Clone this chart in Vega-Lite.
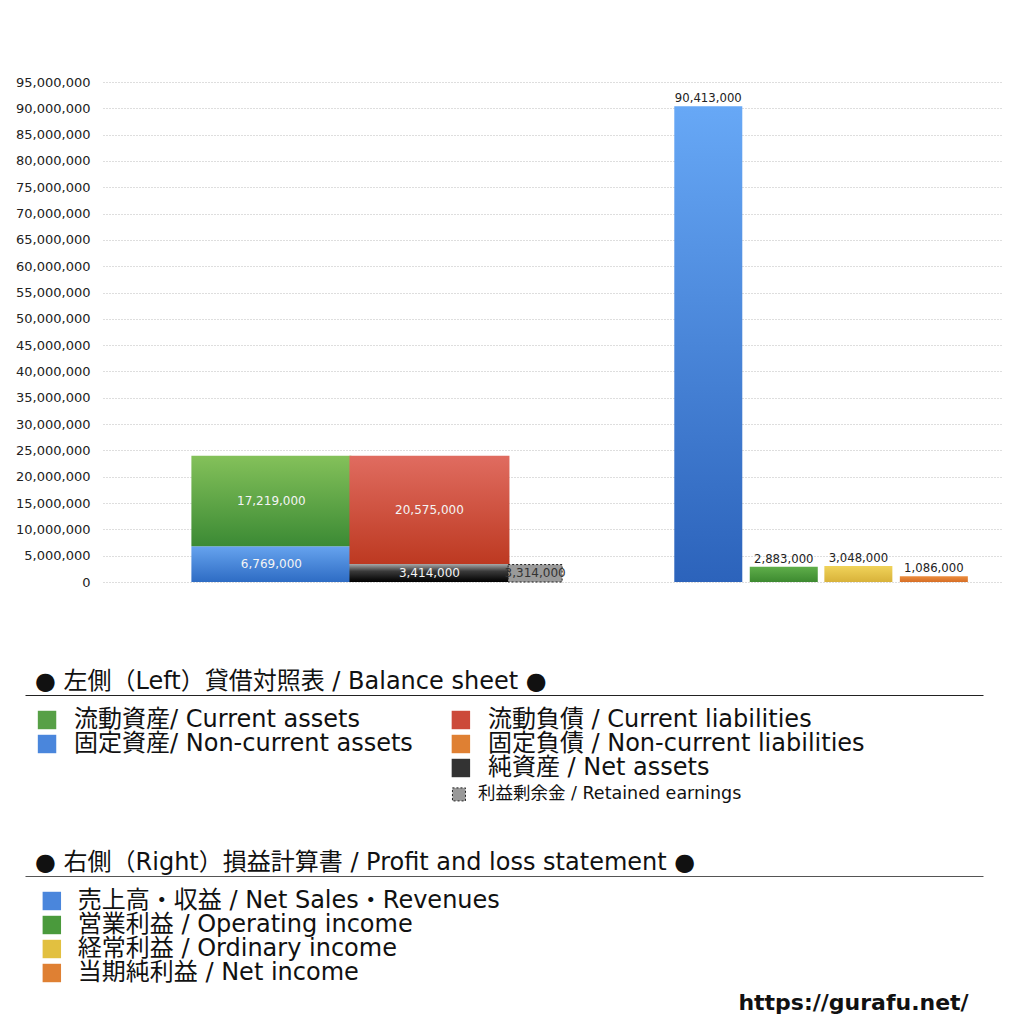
{
  "$schema": "https://vega.github.io/schema/vega-lite/v6.json",
  "background": "white",
  "padding": {"top": 76, "left": 15, "right": 0, "bottom": 0},
  "spacing": 10,
  "config": {
    "font": "DejaVu Sans, Noto Sans CJK JP",
    "view": {"stroke": null}
  },
  "datasets": {
    "bars": [
      {"item": "固定資産", "bar": "資産", "pos": 18.4, "value": 6769000, "order": 1},
      {"item": "流動資産", "bar": "資産", "pos": 18.4, "value": 17219000, "order": 2},
      {"item": "純資産", "bar": "負債・純資産", "pos": 36.2, "value": 3414000, "order": 1},
      {"item": "流動負債", "bar": "負債・純資産", "pos": 36.2, "value": 20575000, "order": 2},
      {"item": "利益剰余金", "bar": "利益剰余金", "pos": 48.1, "value": 3314000, "order": 1},
      {"item": "売上高", "bar": "売上高", "pos": 67.6, "value": 90413000, "order": 1},
      {"item": "営業利益", "bar": "営業利益", "pos": 76.1, "value": 2883000, "order": 1},
      {"item": "経常利益", "bar": "経常利益", "pos": 84.5, "value": 3048000, "order": 1},
      {"item": "当期純利益", "bar": "当期純利益", "pos": 93.0, "value": 1086000, "order": 1}
    ],
    "legend1": [
      {"item": "流動資産", "label": "流動資産/ Current assets", "x": 0.023, "row": 0},
      {"item": "固定資産", "label": "固定資産/ Non-current assets", "x": 0.023, "row": 1},
      {"item": "流動負債", "label": "流動負債 /  Current liabilities", "x": 0.455, "row": 0},
      {"item": "固定負債", "label": "固定負債 / Non-current liabilities", "x": 0.455, "row": 1},
      {"item": "純資産", "label": "純資産 / Net assets", "x": 0.455, "row": 2},
      {"item": "利益剰余金", "label": "利益剰余金 / Retained earnings", "x": 0.453, "row": 3.1}
    ],
    "legend2": [
      {"item": "売上高", "label": "売上高・収益 / Net Sales・Revenues", "x": 0.028, "row": 0},
      {"item": "営業利益", "label": "営業利益 / Operating income", "x": 0.028, "row": 1},
      {"item": "経常利益", "label": "経常利益 / Ordinary income", "x": 0.028, "row": 2},
      {"item": "当期純利益", "label": "当期純利益 / Net income", "x": 0.028, "row": 3}
    ]
  },
  "vconcat": [
    {
      "width": 898,
      "height": 500,
      "data": {"name": "bars"},
      "transform": [
        {"stack": "value", "groupby": ["bar"], "sort": [{"field": "order", "order": "ascending"}], "as": ["v0", "v1"]},
        {"calculate": "(datum.v0 + datum.v1) / 2", "as": "mid"}
      ],
      "encoding": {
        "x": {
          "field": "pos",
          "type": "quantitative",
          "scale": {"domain": [0, 100]},
          "axis": {"labels": false, "ticks": false, "domain": false, "grid": false, "title": null, "minExtent": 78, "maxExtent": 78}
        },
        "y": {
          "field": "v1",
          "type": "quantitative",
          "scale": {"domain": [0, 95000000], "nice": false},
          "axis": {
            "title": null,
            "values": [0, 5000000, 10000000, 15000000, 20000000, 25000000, 30000000, 35000000, 40000000, 45000000, 50000000, 55000000, 60000000, 65000000, 70000000, 75000000, 80000000, 85000000, 90000000, 95000000],
            "format": ",",
            "labelExpr": "format(datum.value, ',')",
            "labelFontSize": 13,
            "labelColor": "#222",
            "labelPadding": 13,
            "ticks": false,
            "domain": false,
            "grid": true,
            "gridColor": "#bdbdbd",
            "gridDash": [1, 2],
            "minExtent": 77,
            "maxExtent": 77
          }
        }
      },
      "layer": [
        {
          "transform": [{"filter": "datum.item == '固定資産'"}],
          "mark": {"type": "bar", "width": 160, "fill": {"gradient": "linear", "x1": 0, "y1": 0, "x2": 0, "y2": 1, "stops": [{"offset": 0, "color": "#66a3ee"}, {"offset": 1, "color": "#2e6cc4"}]}},
          "encoding": {"y2": {"field": "v0"}}
        },
        {
          "transform": [{"filter": "datum.item == '流動資産'"}],
          "mark": {"type": "bar", "width": 160, "fill": {"gradient": "linear", "x1": 0, "y1": 0, "x2": 0, "y2": 1, "stops": [{"offset": 0, "color": "#84c15a"}, {"offset": 1, "color": "#3b8a34"}]}},
          "encoding": {"y2": {"field": "v0"}}
        },
        {
          "transform": [{"filter": "datum.item == '純資産'"}],
          "mark": {"type": "bar", "width": 160, "fill": {"gradient": "linear", "x1": 0, "y1": 0, "x2": 0, "y2": 1, "stops": [{"offset": 0, "color": "#a8a8a8"}, {"offset": 0.4, "color": "#3a3a3a"}, {"offset": 1, "color": "#000000"}]}},
          "encoding": {"y2": {"field": "v0"}}
        },
        {
          "transform": [{"filter": "datum.item == '流動負債'"}],
          "mark": {"type": "bar", "width": 160, "fill": {"gradient": "linear", "x1": 0, "y1": 0, "x2": 0, "y2": 1, "stops": [{"offset": 0, "color": "#e06c60"}, {"offset": 1, "color": "#bd3921"}]}},
          "encoding": {"y2": {"field": "v0"}}
        },
        {
          "transform": [{"filter": "datum.item == '利益剰余金'"}],
          "mark": {"type": "bar", "width": 54, "fill": "#9a9a9a", "stroke": "#222", "strokeWidth": 1, "strokeDash": [2, 2]},
          "encoding": {"y2": {"field": "v0"}}
        },
        {
          "transform": [{"filter": "datum.item == '売上高'"}],
          "mark": {"type": "bar", "width": 68, "fill": {"gradient": "linear", "x1": 0, "y1": 0, "x2": 0, "y2": 1, "stops": [{"offset": 0, "color": "#67a8f6"}, {"offset": 1, "color": "#2c63bb"}]}},
          "encoding": {"y2": {"field": "v0"}}
        },
        {
          "transform": [{"filter": "datum.item == '営業利益'"}],
          "mark": {"type": "bar", "width": 68, "fill": {"gradient": "linear", "x1": 0, "y1": 0, "x2": 0, "y2": 1, "stops": [{"offset": 0, "color": "#5fae4a"}, {"offset": 1, "color": "#3d8a30"}]}},
          "encoding": {"y2": {"field": "v0"}}
        },
        {
          "transform": [{"filter": "datum.item == '経常利益'"}],
          "mark": {"type": "bar", "width": 68, "fill": {"gradient": "linear", "x1": 0, "y1": 0, "x2": 0, "y2": 1, "stops": [{"offset": 0, "color": "#f0d35a"}, {"offset": 1, "color": "#d8b23a"}]}},
          "encoding": {"y2": {"field": "v0"}}
        },
        {
          "transform": [{"filter": "datum.item == '当期純利益'"}],
          "mark": {"type": "bar", "width": 68, "fill": {"gradient": "linear", "x1": 0, "y1": 0, "x2": 0, "y2": 1, "stops": [{"offset": 0, "color": "#eb8d3d"}, {"offset": 1, "color": "#d76e26"}]}},
          "encoding": {"y2": {"field": "v0"}}
        },
        {
          "transform": [{"filter": "datum.bar == '資産' || datum.bar == '負債・純資産'"}],
          "mark": {"type": "text", "fontSize": 12, "fill": "#f4f4f4"},
          "encoding": {"y": {"field": "mid", "type": "quantitative"}, "text": {"field": "value", "type": "quantitative", "format": ","}}
        },
        {
          "transform": [{"filter": "datum.item == '利益剰余金'"}],
          "mark": {"type": "text", "fontSize": 12, "fill": "#333"},
          "encoding": {"y": {"field": "mid", "type": "quantitative"}, "text": {"field": "value", "type": "quantitative", "format": ","}}
        },
        {
          "transform": [{"filter": "datum.pos > 60"}],
          "mark": {"type": "text", "fontSize": 11.7, "fill": "#222", "baseline": "bottom", "dy": -2},
          "encoding": {"text": {"field": "value", "type": "quantitative", "format": ","}}
        }
      ]
    },
    {
      "width": 880,
      "height": 146,
      "title": {"text": "● 左側（Left）貸借対照表 / Balance sheet ●", "anchor": "start", "frame": "group", "fontSize": 24, "fontWeight": "normal", "color": "#111", "dx": -68, "offset": 1},
      "data": {"name": "legend1"},
      "encoding": {
        "x": {"field": "x", "type": "quantitative", "scale": {"domain": [0, 1], "range": [-78, 880]}, "axis": {"orient": "top", "labels": false, "ticks": false, "grid": false, "title": null, "domain": true, "domainColor": "#222", "domainWidth": 1}},
        "y": {"field": "row", "type": "quantitative", "scale": {"domain": [0, 3], "range": [25, 97], "zero": false, "nice": false}, "axis": null}
      },
      "layer": [
        {
          "transform": [{"filter": "datum.item != '利益剰余金'"}],
          "mark": {"type": "point", "shape": "square", "size": 340, "filled": true, "opacity": 1},
          "encoding": {
            "color": {
              "field": "item",
              "type": "nominal",
              "legend": null,
              "scale": {
                "domain": ["流動資産", "固定資産", "流動負債", "固定負債", "純資産", "売上高", "営業利益", "経常利益", "当期純利益"],
                "range": ["#57a046", "#4a86dc", "#cc4a3a", "#df8033", "#333333", "#4a86dc", "#4a9a3c", "#e2c040", "#df8033"]
              }
            }
          }
        },
        {
          "transform": [{"filter": "datum.item == '利益剰余金'"}],
          "mark": {"type": "point", "shape": "square", "size": 170, "fill": "#999", "stroke": "#222", "strokeWidth": 1, "strokeDash": [2, 2], "opacity": 1}
        },
        {
          "transform": [{"filter": "datum.item != '利益剰余金'"}],
          "mark": {"type": "text", "align": "left", "dx": 27, "fontSize": 24, "fill": "#111"},
          "encoding": {"text": {"field": "label"}}
        },
        {
          "transform": [{"filter": "datum.item == '利益剰余金'"}],
          "mark": {"type": "text", "align": "left", "dx": 19, "fontSize": 17.5, "fill": "#111"},
          "encoding": {"text": {"field": "label"}}
        }
      ]
    },
    {
      "width": 880,
      "height": 140,
      "title": {"text": "● 右側（Right）損益計算書 / Profit and loss statement ●", "anchor": "start", "frame": "group", "fontSize": 24, "fontWeight": "normal", "color": "#111", "dx": -68, "offset": 1},
      "encoding": {
        "x": {"field": "x", "type": "quantitative", "scale": {"domain": [0, 1], "range": [-78, 880]}, "axis": {"orient": "top", "labels": false, "ticks": false, "grid": false, "title": null, "domain": true, "domainColor": "#555", "domainWidth": 1}},
        "y": {"field": "row", "type": "quantitative", "scale": {"domain": [0, 3], "range": [25, 97], "zero": false, "nice": false}, "axis": null}
      },
      "layer": [
        {
          "data": {"name": "legend2"},
          "mark": {"type": "point", "shape": "square", "size": 340, "filled": true, "opacity": 1},
          "encoding": {
            "color": {
              "field": "item",
              "type": "nominal",
              "legend": null,
              "scale": {
                "domain": ["流動資産", "固定資産", "流動負債", "固定負債", "純資産", "売上高", "営業利益", "経常利益", "当期純利益"],
                "range": ["#57a046", "#4a86dc", "#cc4a3a", "#df8033", "#333333", "#4a86dc", "#4a9a3c", "#e2c040", "#df8033"]
              }
            }
          }
        },
        {
          "data": {"name": "legend2"},
          "mark": {"type": "text", "align": "left", "dx": 26, "fontSize": 24, "fill": "#111"},
          "encoding": {"text": {"field": "label"}}
        },
        {
          "data": {"values": [{"label": "https://gurafu.net/", "x": 0.985, "row": 4.25}]},
          "mark": {"type": "text", "align": "right", "fontSize": 22, "fontWeight": "bold", "fill": "#111"},
          "encoding": {"text": {"field": "label"}}
        }
      ]
    }
  ]
}
